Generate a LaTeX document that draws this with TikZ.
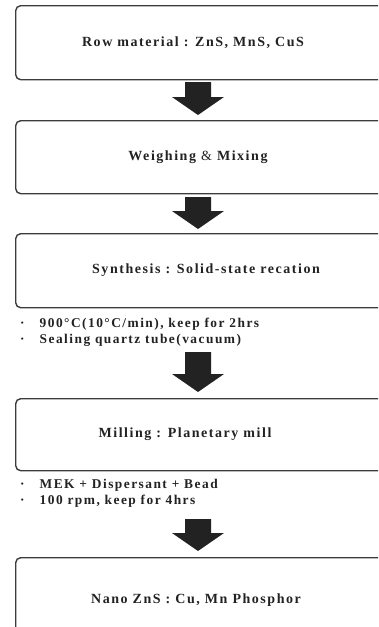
\documentclass[tikz,border=0pt]{standalone}
\usepackage{fontspec}
\setmainfont{Liberation Serif}
\newfontfamily\boxfont[LetterSpace=11]{Liberation Serif}
\usetikzlibrary{calc}
\definecolor{edge}{HTML}{3C3C3C}
\definecolor{ink}{HTML}{222222}
\tikzset{
  stepbox/.style={draw=edge, line width=1.4pt, rounded corners=5pt, minimum width=370pt, inner sep=0pt, anchor=north west},
  lbl/.style={text=ink, font=\boxfont\bfseries\fontsize{14}{16}\selectfont, inner sep=0pt},
  notes/.style={text=ink, font=\boxfont\bfseries\fontsize{13.4}{16}\selectfont, align=left, anchor=north west, inner sep=0pt},
  blockarrow/.style={fill=ink, draw=none}
}
\begin{document}
\begin{tikzpicture}[x=1pt,y=1pt]
\useasboundingbox (0,0) rectangle (378,-627);
\clip (0,0) rectangle (378,-627);
% boxes
\node[stepbox, minimum height=74pt] (b1) at (15,-5) {};
\node[stepbox, minimum height=73pt] (b2) at (15,-120) {};
\node[stepbox, minimum height=74pt] (b3) at (15,-233) {};
\node[stepbox, minimum height=72pt] (b4) at (15,-398) {};
\node[stepbox, minimum height=76pt] (b5) at (15,-557) {};
% labels
\node[lbl] (t1) at (193,-43) {Row material : ZnS, MnS, CuS};
\node[lbl] (t2) at (198,-157) {Weighing {\mdseries\&} Mixing};
\node[lbl] (t3) at (206,-270) {Synthesis : Solid-state recation};
\node[lbl] (t4) at (185,-434) {Milling : Planetary mill};
\node[lbl] (t5) at (196,-600) {Nano ZnS : Cu, Mn Phosphor};
% notes
\node[notes] (n1) at (20,-318) {·\hspace{15pt}900°C(10°C/min), keep for 2hrs\\·\hspace{15pt}Sealing quartz tube(vacuum)};
\node[notes] (n2) at (20,-479) {·\hspace{15pt}MEK + Dispersant + Bead\\·\hspace{15pt}100 rpm, keep for 4hrs};
% arrows
\coordinate (a1s) at (198,-82);
\coordinate (a1t) at (198,-115);
\fill[blockarrow] ($(a1s)+(-13,0)$) -- ($(a1s)+(13,0)$) -- (211,-97) -- (224,-97) -- (a1t) -- (172,-97) -- (185,-97) -- cycle;
\coordinate (a2s) at (198,-197);
\coordinate (a2t) at (198,-229);
\fill[blockarrow] ($(a2s)+(-13,0)$) -- ($(a2s)+(13,0)$) -- (211,-211) -- (224,-211) -- (a2t) -- (172,-211) -- (185,-211) -- cycle;
\coordinate (a3s) at (198,-352);
\coordinate (a3t) at (198,-392);
\fill[blockarrow] ($(a3s)+(-13,0)$) -- ($(a3s)+(13,0)$) -- (211,-374) -- (224,-374) -- (a3t) -- (172,-374) -- (185,-374) -- cycle;
\coordinate (a4s) at (198,-519);
\coordinate (a4t) at (198,-551);
\fill[blockarrow] ($(a4s)+(-13,0)$) -- ($(a4s)+(13,0)$) -- (211,-533) -- (224,-533) -- (a4t) -- (172,-533) -- (185,-533) -- cycle;
\end{tikzpicture}
\end{document}
